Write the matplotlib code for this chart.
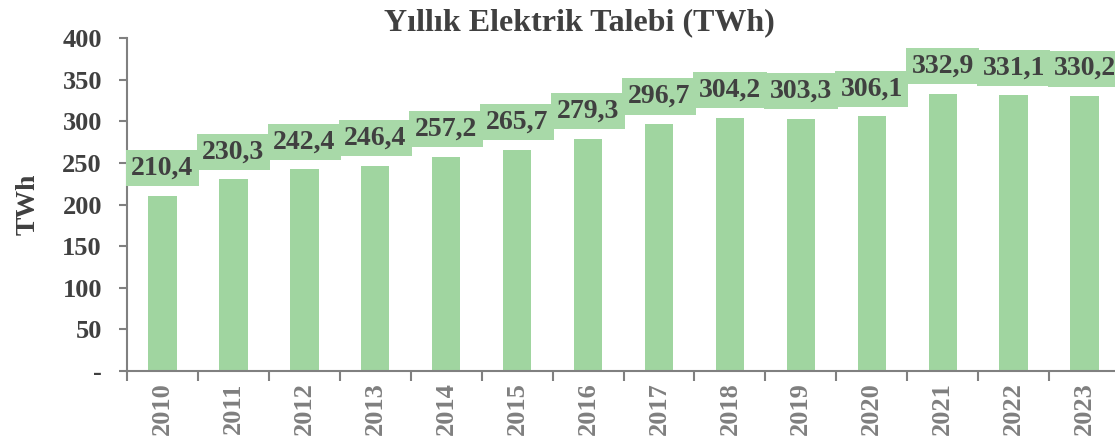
import numpy as np
import matplotlib.pyplot as plt

# Yillik elektrik talebi verisi
yillar = ['2010', '2011', '2012', '2013', '2014', '2015', '2016',
          '2017', '2018', '2019', '2020', '2021', '2022', '2023']
talep = [210.4, 230.3, 242.4, 246.4, 257.2, 265.7, 279.3,
         296.7, 304.2, 303.3, 306.1, 332.9, 331.1, 330.2]
y_ticks = [0, 50, 100, 150, 200, 250, 300, 350, 400]
y_tick_labels = ['-', '50', '100', '150', '200', '250', '300', '350', '400']

plt.rcParams['font.family'] = ['Liberation Serif', 'DejaVu Serif']

fig = plt.figure(figsize=(11.15, 4.46), dpi=100)
ax = fig.add_axes([0.1139, 0.168, 0.8906, 0.7468])

x = np.arange(len(yillar))
ax.bar(x, talep, width=0.4, color='#a0d5a0')

# etiketler (yesil kutular)
for xi, v in zip(x, talep):
    ax.text(xi, v + 33, f'{v:.1f}'.replace('.', ','), ha='center', va='center',
            fontsize=20, fontweight='bold', color='#404040',
            bbox=dict(boxstyle='square,pad=0.2', facecolor='#a8d9a8', edgecolor='none'))

ax.set_xlim(-0.5, len(yillar) - 0.5)
ax.set_ylim(0, 400)
ax.set_xticks(x)
ax.set_xticklabels(yillar, rotation=90, fontsize=19, fontweight='bold', color='#7f7f7f')
ax.set_xticks(np.arange(-0.5, len(yillar)), minor=True)
ax.tick_params(axis='x', which='major', length=0, pad=8)
ax.tick_params(axis='x', which='minor', length=7, width=1.5, color='#808080', direction='out')
ax.set_yticks(y_ticks)
ax.set_yticklabels(y_tick_labels, fontsize=19, fontweight='bold', color='#404040')
ax.tick_params(axis='y', length=6, width=1.5, color='#808080', direction='out', pad=12)

for s in ['top', 'right']:
    ax.spines[s].set_visible(False)
for s in ['left', 'bottom']:
    ax.spines[s].set_color('#808080')
    ax.spines[s].set_linewidth(1.5)

ax.set_ylabel('TWh', fontsize=20, fontweight='bold', color='#404040', labelpad=16)
fig.text(0.52, 0.948, 'Yıllık Elektrik Talebi (TWh)', ha='center', va='center',
         fontsize=23, fontweight='bold', color='#404040')

plt.savefig('out.png', dpi=100)
